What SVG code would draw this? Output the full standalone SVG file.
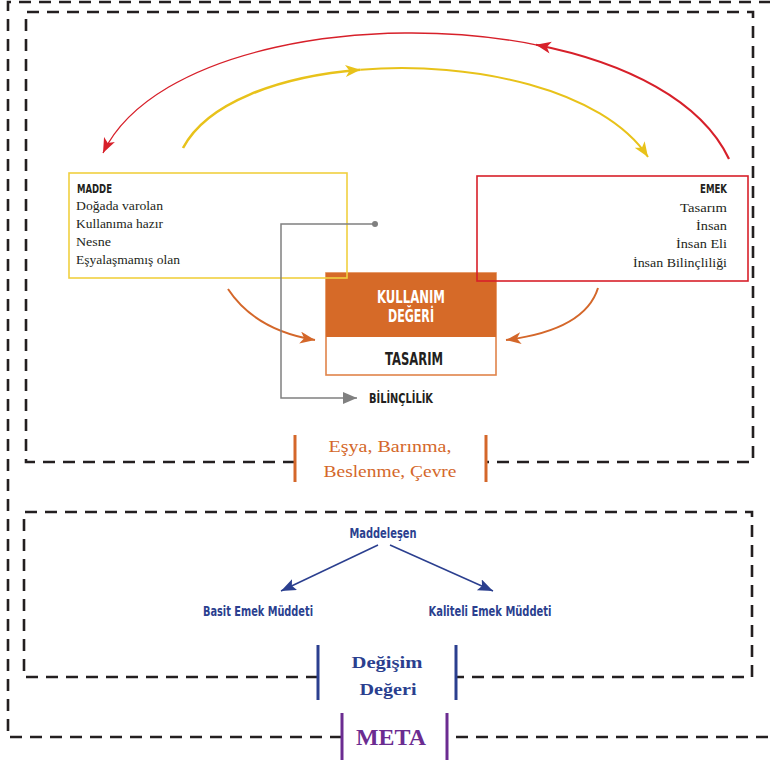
<svg xmlns="http://www.w3.org/2000/svg" width="770" height="760" viewBox="0 0 770 760">
<style>
.dash{fill:none;stroke:#231f20;stroke-width:2.6;stroke-dasharray:12 8}
.cond{font-family:"Liberation Sans Narrow","DejaVu Sans Condensed","Liberation Sans",sans-serif;font-weight:bold;font-stretch:condensed}
.ser{font-family:"Liberation Serif","DejaVu Serif",serif;fill:#231f20;font-size:13.5px}
.bar{stroke-width:3}
</style>
<defs>
<marker id="ar-red" markerUnits="userSpaceOnUse" markerWidth="18" markerHeight="14" refX="15" refY="6" orient="auto"><path d="M0,0 L15,6 L0,12 L4,6 z" fill="#d7202a"/></marker>
<marker id="ar-yel" markerUnits="userSpaceOnUse" markerWidth="18" markerHeight="14" refX="15" refY="6" orient="auto"><path d="M0,0 L15,6 L0,12 L4,6 z" fill="#e8c21a"/></marker>
<marker id="ar-or" markerUnits="userSpaceOnUse" markerWidth="18" markerHeight="14" refX="15" refY="6" orient="auto"><path d="M0,0 L15,6 L0,12 L4,6 z" fill="#d4672a"/></marker>
<marker id="ar-gr" markerUnits="userSpaceOnUse" markerWidth="18" markerHeight="14" refX="14" refY="6" orient="auto"><path d="M0,0 L14,6 L0,12 z" fill="#808080"/></marker>
<marker id="ar-bl" markerUnits="userSpaceOnUse" markerWidth="18" markerHeight="14" refX="15" refY="6" orient="auto"><path d="M0,0 L15,6 L0,12 L3,6 z" fill="#2b3f8f"/></marker>
</defs>

<g id="frames">
<path class="dash" d="M342,737 H8 V2 H776 V737 H447"/>
<path class="dash" d="M295,462 H26 V12 H753 V462 H486"/>
<path class="dash" d="M318,677 H24 V512 H752 V677 H456"/>
</g>

<g id="kullanim">
<rect x="326" y="273" width="170" height="102" fill="#fff" stroke="#e0844a" stroke-width="1.6"/>
<rect x="326" y="273" width="170" height="64" fill="#d66a28"/>
<text class="cond" x="411" y="303" font-size="17" fill="#fff" text-anchor="middle" textLength="68" lengthAdjust="spacingAndGlyphs">KULLANIM</text>
<text class="cond" x="411" y="322" font-size="17" fill="#fff" text-anchor="middle" textLength="46" lengthAdjust="spacingAndGlyphs">DEĞERİ</text>
<text class="cond" x="414" y="365" font-size="17.5" fill="#231f20" text-anchor="middle" textLength="58" lengthAdjust="spacingAndGlyphs">TASARIM</text>
</g>

<g id="madde">
<rect x="69" y="173" width="278" height="105" fill="none" stroke="#f0d040" stroke-width="1.6"/>
<text class="cond" x="77" y="193" font-size="12.5" fill="#231f20" textLength="35" lengthAdjust="spacingAndGlyphs">MADDE</text>
<text class="ser" x="76" y="210" textLength="87" lengthAdjust="spacingAndGlyphs">Doğada varolan</text>
<text class="ser" x="76" y="228" textLength="87" lengthAdjust="spacingAndGlyphs">Kullanıma hazır</text>
<text class="ser" x="76" y="246" textLength="35" lengthAdjust="spacingAndGlyphs">Nesne</text>
<text class="ser" x="76" y="264" textLength="104" lengthAdjust="spacingAndGlyphs">Eşyalaşmamış olan</text>
</g>

<g id="emek">
<rect x="477" y="176" width="271" height="105" fill="none" stroke="#d7202a" stroke-width="1.6"/>
<text class="cond" x="727" y="193" font-size="12.5" fill="#231f20" text-anchor="end" textLength="27" lengthAdjust="spacingAndGlyphs">EMEK</text>
<text class="ser" x="727" y="212" text-anchor="end" textLength="47" lengthAdjust="spacingAndGlyphs">Tasarım</text>
<text class="ser" x="727" y="230" text-anchor="end" textLength="31" lengthAdjust="spacingAndGlyphs">İnsan</text>
<text class="ser" x="727" y="248" text-anchor="end" textLength="51" lengthAdjust="spacingAndGlyphs">İnsan Eli</text>
<text class="ser" x="727" y="267" text-anchor="end" textLength="94" lengthAdjust="spacingAndGlyphs">İnsan Bilinçliliği</text>
</g>

<g id="bilinclilik">
<text class="cond" x="369" y="403" font-size="14" fill="#231f20" textLength="64" lengthAdjust="spacingAndGlyphs">BİLİNÇLİLİK</text>
</g>

<g id="esya">
<line class="bar" x1="295" y1="435" x2="295" y2="482" stroke="#d4672a"/>
<line class="bar" x1="486" y1="435" x2="486" y2="482" stroke="#d4672a"/>
<text x="390" y="452" font-family="Liberation Serif,serif" font-size="17" fill="#d4672a" text-anchor="middle" textLength="123" lengthAdjust="spacingAndGlyphs">Eşya, Barınma,</text>
<text x="390" y="477" font-family="Liberation Serif,serif" font-size="17" fill="#d4672a" text-anchor="middle" textLength="133" lengthAdjust="spacingAndGlyphs">Beslenme, Çevre</text>
</g>

<g id="maddelesen">
<text class="cond" x="383" y="538" font-size="14" fill="#2b3f8f" text-anchor="middle" textLength="67" lengthAdjust="spacingAndGlyphs">Maddeleşen</text>
</g>
<g id="basit">
<text class="cond" x="258" y="616" font-size="14" fill="#2b3f8f" text-anchor="middle" textLength="110" lengthAdjust="spacingAndGlyphs">Basit Emek Müddeti</text>
</g>
<g id="kaliteli">
<text class="cond" x="490" y="616" font-size="14" fill="#2b3f8f" text-anchor="middle" textLength="123" lengthAdjust="spacingAndGlyphs">Kaliteli Emek Müddeti</text>
</g>

<g id="degisim">
<line class="bar" x1="318" y1="645" x2="318" y2="700" stroke="#2b3f8f"/>
<line class="bar" x1="456" y1="645" x2="456" y2="700" stroke="#2b3f8f"/>
<text x="387" y="668" font-family="Liberation Serif,serif" font-weight="bold" font-size="17" fill="#2b3f8f" text-anchor="middle" textLength="71" lengthAdjust="spacingAndGlyphs">Değişim</text>
<text x="388" y="695" font-family="Liberation Serif,serif" font-weight="bold" font-size="17" fill="#2b3f8f" text-anchor="middle" textLength="57" lengthAdjust="spacingAndGlyphs">Değeri</text>
</g>

<g id="meta">
<line class="bar" x1="342" y1="713" x2="342" y2="760" stroke="#6b2c91"/>
<line class="bar" x1="447" y1="713" x2="447" y2="760" stroke="#6b2c91"/>
<text x="391" y="745" font-family="Liberation Serif,serif" font-weight="bold" font-size="23" fill="#6b2c91" text-anchor="middle" textLength="70" lengthAdjust="spacingAndGlyphs">META</text>
</g>

<g id="connectors" fill="none">
<path d="M729,159 C701.35,100.55 625.8,62.56 535.97,44.77" stroke="#d7202a" stroke-width="2.2" marker-end="url(#ar-red)"/>
<path d="M535.97,44.77 C369.14,11.72 153.05,48.35 103,153" stroke="#d7202a" stroke-width="1.3" marker-end="url(#ar-red)"/>
<path d="M183,148 C206.94,102.64 279.04,76.33 360.4,69.74" stroke="#e8c21a" stroke-width="2.6" marker-end="url(#ar-yel)"/>
<path d="M360.4,69.74 C472.75,60.64 602.76,89.14 648,157" stroke="#e8c21a" stroke-width="2" marker-end="url(#ar-yel)"/>
<path d="M228,289 Q255,330 315,340" stroke="#d4672a" stroke-width="2" marker-end="url(#ar-or)"/>
<path d="M598,288 Q585,330 506,340" stroke="#d4672a" stroke-width="2" marker-end="url(#ar-or)"/>
<path d="M375,224 H281 V398 H357" stroke="#808080" stroke-width="1.5" marker-end="url(#ar-gr)"/>
<circle cx="375" cy="224" r="3" fill="#808080"/>
<path d="M378,545 L281,591" stroke="#2b3f8f" stroke-width="1.5" marker-end="url(#ar-bl)"/>
<path d="M390,545 L493,591" stroke="#2b3f8f" stroke-width="1.5" marker-end="url(#ar-bl)"/>
</g>
</svg>
